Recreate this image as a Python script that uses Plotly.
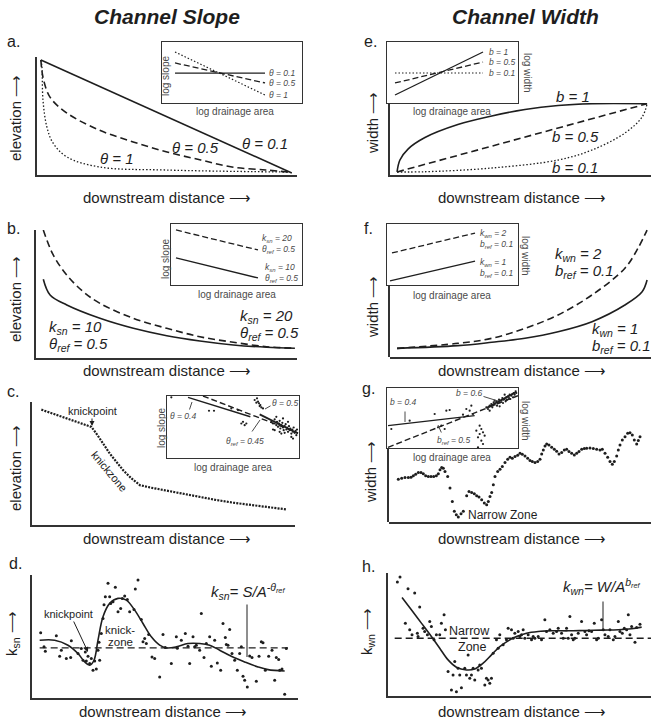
import plotly.graph_objects as go

W, H = 651, 721
FONT = "Liberation Sans, Arial, Helvetica, sans-serif"
INK = "#1e1e1e"
GRAY = "#4a4a4a"
ARROW = "\u27f6"

# ================= DATA (arbitrary units) =================
# --- panel a: elevation profiles, theta = 0.1 / 0.5 / 1
a_x_t01 = [1.5, 98]
a_y_t01 = [97.5, 1.7]
a_x_t05 = [1.5, 2.3, 5, 11.5, 24, 37, 50, 63, 75, 88, 97]
a_y_t05 = [97.5, 83, 66, 52.5, 38, 28, 19.5, 12.7, 6.8, 4.2, 2.5]
a_x_t1 = [1.5, 1.9, 2.3, 3.8, 6.2, 11.5, 24, 50, 97]
a_y_t1 = [97.5, 91.5, 63.5, 40.7, 27, 15.3, 6.8, 4.2, 2.5]
# inset a: log slope vs log area
ai_x = [9.3, 73.6]
ai_t01 = [49, 49]
ai_t05 = [65.6, 32.8]
ai_t1 = [83.6, 13.1]

# --- panel e: width profiles, b = 1 / 0.5 / 0.1
e_x_b1 = [2.7, 3.8, 6.9, 13.4, 26, 39, 51.7, 64.4, 77.4, 98.5]
e_y_b1 = [4.2, 20.8, 36, 52, 70, 82, 91, 96.5, 99, 99]
e_x_b05 = [2.7, 98.5]
e_y_b05 = [4.2, 99]
e_x_b01 = [2.7, 13.4, 39, 64.4, 77.4, 90, 96.6, 98.5]
e_y_b01 = [4.2, 4.5, 9.7, 20.8, 34.7, 58.3, 80.6, 99]
# inset e
ei_x = [6.1, 73.3]
ei_b1 = [13.1, 83.6]
ei_b05 = [32.8, 67.2]
ei_b01 = [49.2, 49.2]

# --- panel b: ksn = 20 (dashed) and ksn = 10 (solid)
b_x_k20 = [2.8, 6.6, 11.8, 18.1, 24.5, 37.3, 50.1, 62.8, 75.6, 88.4, 99.2]
b_y_k20 = [100, 80.5, 64.8, 51.8, 42.7, 31, 23.2, 16.6, 12.3, 8.8, 7.6]
b_x_k10 = [2.8, 5.4, 11.8, 24.5, 37.3, 50.1, 62.8, 75.6, 88.4, 99.2]
b_y_k10 = [61.5, 49.2, 41.4, 31, 23.2, 17.4, 13.3, 10.2, 8.4, 7.6]
# inset b
bi_x = [3.8, 66.4]
bi_k20 = [90.2, 57.4]
bi_k10 = [44.3, 11.5]

# --- panel f: kwn = 2 (dashed) and kwn = 1 (solid)
f_x_k2 = [2.7, 26, 39, 51.7, 64.4, 77.4, 90, 95, 98.5]
f_y_k2 = [6.7, 10.6, 14.5, 22.2, 32.6, 48.1, 68.8, 84.3, 98.4]
f_x_k1 = [2.7, 26, 39, 51.7, 64.4, 77.4, 90, 96.6, 98.5]
f_y_k1 = [6.7, 8.8, 11.4, 14.5, 19.6, 27.4, 40.3, 50.6, 59.7]
# inset f
fi_x2 = [3.8, 67.2]
fi_k2 = [52.5, 85.2]
fi_x1 = [2.3, 67.2]
fi_k1 = [6.6, 39.3]

# --- panel c: long profile with knickzone
c_dist = [125, 160, 200, 240, 275, 290, 310, 330, 350, 370, 395, 420, 450, 500,
          550, 600, 650, 700, 750, 800, 858]
c_elev = [347, 335, 320, 307, 295, 275, 245, 215, 190, 165, 140, 120, 113, 103,
          93, 83, 75, 67, 60, 53, 47]
# inset c: slope-area data and fits
ci_pts = [(35, 181), (148, 141), (163, 141), (215, 148), (235, 143), (245, 103), (250, 108),
          (260, 103), (255, 98), (285, 173), (292, 178), (290, 165), (298, 163), (300, 155),
          (305, 151), (310, 148), (302, 158), (295, 168), (335, 108), (340, 103), (345, 115),
          (350, 98), (352, 108), (355, 93), (358, 103), (360, 111), (362, 88), (365, 98),
          (368, 105), (370, 91), (372, 83), (375, 95), (378, 101), (380, 85), (382, 91),
          (385, 78), (388, 95), (390, 83), (392, 88), (395, 73), (398, 85), (400, 78),
          (402, 91), (405, 75), (408, 81), (345, 83), (360, 78), (370, 118), (385, 108),
          (350, 123), (395, 63), (340, 85), (400, 58), (375, 75), (365, 73), (410, 68),
          (412, 85), (355, 103)]
ci_x04 = [85, 272]
ci_y04 = [181, 123]
ci_xref = [130, 415]
ci_yref = [185, 75]
ci_x05 = [300, 415]
ci_y05 = [130, 73]

# --- panel g: width series with narrow zone
g_pts = [(220, 129), (230, 132), (240, 134), (250, 134), (258, 135), (265, 139), (272, 144),
         (280, 149), (288, 149), (295, 145), (302, 139), (310, 137), (318, 137), (326, 137),
         (334, 139), (340, 145), (345, 157), (350, 164), (355, 162), (360, 152), (368, 137),
         (375, 102), (382, 62), (388, 32), (394, 22), (400, 15), (408, 25), (415, 32),
         (425, 79), (432, 92), (440, 89), (448, 85), (455, 79), (462, 75), (470, 67),
         (478, 57), (485, 52), (490, 62), (495, 77), (500, 89), (505, 112), (510, 137),
         (518, 152), (525, 159), (532, 167), (540, 179), (548, 189), (555, 195), (562, 192),
         (570, 197), (578, 201), (585, 207), (592, 204), (600, 199), (608, 192), (615, 185),
         (622, 182), (630, 179), (638, 182), (645, 189), (650, 205), (655, 217), (660, 229),
         (665, 235), (672, 232), (680, 225), (688, 219), (695, 213), (702, 205), (710, 209),
         (718, 217), (725, 219), (732, 212), (740, 207), (748, 202), (755, 207), (762, 212),
         (770, 219), (778, 221), (785, 222), (795, 223), (805, 221), (815, 219), (825, 217),
         (832, 219), (840, 207), (848, 195), (855, 182), (862, 174), (868, 182), (875, 199),
         (880, 217), (885, 232), (892, 247), (900, 257), (908, 267), (915, 269), (922, 262),
         (928, 247), (935, 235), (940, 245), (945, 257)]
# inset g
gi_pts = [(25, 57), (80, 82), (155, 102), (190, 112), (200, 114), (165, 62), (175, 67),
          (185, 57), (250, 117), (260, 112), (265, 127), (270, 102), (240, 100), (280, 52),
          (285, 32), (290, 42), (295, 22), (300, 12), (295, 57), (290, 67), (285, 2),
          (300, 47), (305, 37), (310, 122), (315, 117), (320, 127), (325, 132), (328, 122),
          (332, 137), (335, 130), (340, 140), (342, 127), (345, 135), (348, 145), (350, 137),
          (355, 142), (358, 150), (360, 135), (362, 145), (365, 147), (368, 140), (370, 152),
          (372, 145), (375, 155), (378, 150), (380, 160), (382, 147), (385, 157), (388, 162),
          (390, 152), (392, 165), (395, 160), (398, 170), (400, 165), (335, 142), (350, 125),
          (365, 160), (320, 112)]
gi_x04 = [15, 275]
gi_y04 = [67, 97]
gi_xref = [15, 405]
gi_yref = [2, 157]
gi_x06 = [310, 400]
gi_y06 = [120, 168]

# --- panel d: ksn along the channel
d_pts = [(38, 195), (48, 153), (52, 140), (85, 186), (95, 125), (100, 143), (115, 118),
         (128, 121), (130, 171), (150, 133), (160, 148), (165, 113), (172, 138), (175, 111),
         (180, 125), (185, 103), (190, 118), (195, 83), (200, 111), (205, 87), (210, 143),
         (213, 167), (215, 113), (220, 193), (225, 238), (228, 279), (232, 303), (240, 343),
         (245, 303), (248, 283), (255, 288), (262, 331), (270, 258), (278, 268), (283, 298),
         (290, 305), (298, 295), (305, 258), (318, 265), (322, 326), (330, 353), (340, 235),
         (345, 168), (350, 178), (355, 163), (362, 190), (372, 123), (380, 118), (395, 63),
         (405, 190), (412, 151), (430, 103), (445, 183), (448, 149), (460, 173), (472, 193),
         (480, 155), (485, 103), (495, 183), (500, 153), (505, 158), (515, 143), (520, 253),
         (528, 121), (535, 163), (545, 183), (550, 95), (560, 173), (568, 105), (578, 83),
         (585, 223), (592, 181), (595, 160), (600, 158), (605, 205), (612, 133), (620, 113),
         (628, 83), (635, 133), (640, 153), (645, 65), (650, 53), (658, 33), (665, 126),
         (672, 121), (685, 50), (693, 125), (700, 168), (705, 165), (712, 83), (722, 125),
         (732, 143), (740, 53), (745, 121), (752, 115), (755, 83), (762, 87), (770, 11),
         (775, 148)]
d_fit_x = [35, 80, 120, 150, 170, 185, 198, 210, 225, 245, 270, 295, 320, 345, 370, 395,
           415, 445, 480, 515, 545, 575, 610, 650, 690, 720, 770]
d_fit_y = [173, 173, 158, 133, 108, 98, 113, 173, 243, 283, 298, 293, 263, 223, 183, 158,
           150, 153, 163, 163, 158, 143, 125, 108, 93, 85, 81]
d_ref_x = [35, 780]
d_ref_y = [150, 150]

# --- panel h: kwn along the channel
h_pts = [(38, 341), (46, 356), (70, 321), (90, 308), (105, 266), (62, 218), (75, 198),
         (82, 183), (98, 188), (100, 178), (115, 203), (120, 193), (128, 183), (135, 223),
         (140, 208), (148, 168), (155, 183), (165, 183), (170, 218), (178, 243), (182, 198),
         (190, 73), (200, 18), (205, 63), (210, 103), (215, 13), (220, 83), (225, 63),
         (230, 25), (240, 83), (245, 63), (250, 123), (255, 53), (260, 63), (265, 83),
         (270, 48), (280, 78), (285, 93), (290, 83), (300, 33), (305, 53), (310, 48),
         (315, 38), (320, 53), (325, 128), (335, 168), (340, 143), (345, 183), (355, 153),
         (365, 168), (370, 203), (380, 198), (385, 173), (390, 188), (400, 193), (405, 178),
         (410, 183), (415, 198), (420, 173), (430, 183), (440, 168), (445, 178), (450, 173),
         (460, 178), (470, 168), (480, 228), (485, 193), (495, 198), (505, 188), (515, 193),
         (520, 203), (530, 188), (535, 173), (545, 203), (550, 173), (555, 238), (560, 183),
         (565, 168), (570, 173), (580, 188), (590, 223), (600, 193), (605, 183), (612, 195),
         (620, 193), (628, 218), (635, 168), (640, 173), (650, 228), (655, 198), (660, 183),
         (670, 178), (675, 198), (685, 168), (690, 178), (700, 223), (705, 193), (712, 188),
         (718, 203), (725, 198), (730, 243), (735, 183), (740, 208), (750, 161), (755, 205),
         (765, 215)]
h_fit_x = [52, 80, 110, 140, 165, 190, 215, 245, 270, 295, 320, 345, 370, 395, 425, 460,
           500, 550, 600, 650, 700, 740, 770]
h_fit_y = [295, 258, 218, 178, 143, 108, 86, 78, 81, 98, 123, 148, 165, 178, 188, 193,
           195, 195, 196, 197, 198, 201, 206]
h_ref_x = [30, 800]
h_ref_y = [173, 173]

# ================= FIGURE =================
fig = go.Figure()


def key(k, L):
    return f"{L}axis" if k == 1 else f"{L}axis{k}"


def ref(k, L):
    return L if k == 1 else f"{L}{k}"


def add_axes(k, xpx, ypx, xr, yr, xline=True, yline=True, mirror=False, lw=1.5):
    base = dict(showgrid=False, zeroline=False, showticklabels=False, ticks="",
                linecolor="#333333", linewidth=lw, mirror=mirror, fixedrange=True)
    fig.layout[key(k, "x")] = dict(base, domain=[xpx[0] / W, xpx[1] / W], range=xr,
                                  anchor=ref(k, "y"), showline=xline)
    fig.layout[key(k, "y")] = dict(base, domain=[1 - ypx[0] / H, 1 - ypx[1] / H], range=yr,
                                  anchor=ref(k, "x"), showline=yline)


def line(k, xs, ys, dash=None, width=1.6, color=INK, spline=True):
    fig.add_trace(go.Scatter(x=xs, y=ys, mode="lines",
                             line=dict(color=color, width=width, dash=dash,
                                       shape="spline" if spline else "linear", smoothing=1.0),
                             xaxis=ref(k, "x"), yaxis=ref(k, "y"),
                             hoverinfo="skip", showlegend=False))


def dots(k, pts, size=3.2, color=INK):
    fig.add_trace(go.Scatter(x=[p[0] for p in pts], y=[p[1] for p in pts], mode="markers",
                             marker=dict(color=color, size=size),
                             xaxis=ref(k, "x"), yaxis=ref(k, "y"),
                             hoverinfo="skip", showlegend=False))


DASH = "7px,4px"
DOT = "1.5px,2px"

# axes (pixel domains)
add_axes(1, [37, 297], [175, 57], [0, 100], [0, 100])                 # a
add_axes(2, [162, 302], [103, 42], [0, 100], [0, 100], mirror=True, lw=1.3)   # a inset
add_axes(3, [390, 651], [175, 103], [0, 100], [0, 100])               # e
add_axes(4, [387, 518], [103, 42], [0, 100], [0, 100], mirror=True, lw=1.3)   # e inset
add_axes(5, [36, 297], [358, 230], [0, 100], [0, 100])                # b
add_axes(6, [171, 302], [285, 224], [0, 100], [0, 100], mirror=True, lw=1.3)  # b inset
add_axes(7, [390, 651], [357, 228], [0, 100], [0, 100], yline=False)  # f
add_axes(8, [387, 518], [285, 224], [0, 100], [0, 100], mirror=True, lw=1.3)  # f inset
add_axes(9, [32, 295], [525, 402], [97, 885], [0, 370])               # c
add_axes(10, [167, 299], [458, 396], [22, 418], [0, 185], mirror=True, lw=1.3)  # c inset
add_axes(11, [389, 651], [522, 428], [192, 978], [0, 283], yline=False)  # g
add_axes(12, [387, 518], [448, 388], [12, 405], [0, 180], mirror=True, lw=1.3)  # g inset
add_axes(13, [32, 298], [698, 575], [12, 810], [0, 368])              # d
add_axes(14, [388, 651], [696, 573], [10, 798], [0, 368])             # h
add_axes(15, [390, 651], [357, 285], [0, 1], [0, 1], xline=False)     # f left axis line
add_axes(16, [389, 651], [522, 448], [0, 1], [0, 1], xline=False)     # g left axis line
for k in (15, 16):
    fig.add_trace(go.Scatter(x=[None], y=[None], mode="lines", xaxis=ref(k, "x"),
                             yaxis=ref(k, "y"), showlegend=False, hoverinfo="skip"))

# panel a
line(1, a_x_t01, a_y_t01, spline=False)
line(1, a_x_t05, a_y_t05, dash=DASH)
line(1, a_x_t1, a_y_t1, dash=DOT, width=1.3)
line(2, ai_x, ai_t01, spline=False, width=1.3)
line(2, ai_x, ai_t05, dash="6px,3px", spline=False, width=1.3)
line(2, ai_x, ai_t1, dash=DOT, spline=False, width=1.2)

# panel e
line(3, e_x_b1, e_y_b1)
line(3, e_x_b05, e_y_b05, dash=DASH, spline=False)
line(3, e_x_b01, e_y_b01, dash=DOT, width=1.3)
line(4, ei_x, ei_b1, spline=False, width=1.3)
line(4, ei_x, ei_b05, dash="6px,3px", spline=False, width=1.3)
line(4, ei_x, ei_b01, dash=DOT, spline=False, width=1.2)

# panel b
line(5, b_x_k20, b_y_k20, dash=DASH)
line(5, b_x_k10, b_y_k10)
line(6, bi_x, bi_k20, dash="6px,3px", spline=False, width=1.3)
line(6, bi_x, bi_k10, spline=False, width=1.3)

# panel f
line(7, f_x_k2, f_y_k2, dash=DASH)
line(7, f_x_k1, f_y_k1)
line(8, fi_x2, fi_k2, dash="6px,3px", spline=False, width=1.3)
line(8, fi_x1, fi_k1, spline=False, width=1.3)

# panel c
line(9, c_dist, c_elev, dash="2px,1.2px", width=2.2, spline=False)
dots(10, ci_pts, size=2.2)
line(10, ci_x04, ci_y04, spline=False, width=1.4)
line(10, ci_xref, ci_yref, dash="6px,3px", spline=False, width=1.4)
line(10, ci_x05, ci_y05, spline=False, width=1.8)

# panel g
dots(11, g_pts, size=3)
dots(12, gi_pts, size=2.2)
line(12, gi_x04, gi_y04, spline=False, width=1.4)
line(12, gi_xref, gi_yref, dash="6px,3px", spline=False, width=1.4)
line(12, gi_x06, gi_y06, spline=False, width=1.8)

# panel d
line(13, d_ref_x, d_ref_y, dash=DASH, spline=False, width=1.4)
dots(13, d_pts, size=3)
line(13, d_fit_x, d_fit_y, width=1.6)

# panel h
line(14, h_ref_x, h_ref_y, dash=DASH, spline=False, width=1.4)
dots(14, h_pts, size=3)
line(14, h_fit_x, h_fit_y, width=1.6)


# ================= TEXT =================
def txt(x, y, s, size=15, color=INK, angle=0, xanchor="center", italic=False, bold=False):
    if italic:
        s = f"<i>{s}</i>"
    if bold:
        s = f"<b>{s}</b>"
    fig.add_annotation(x=x / W, y=1 - y / H, xref="paper", yref="paper", text=s,
                       showarrow=False, textangle=angle, xanchor=xanchor, yanchor="middle",
                       font=dict(family=FONT, size=size, color=color))


def ptr(x0, y0, x1, y1, head=0, color=INK, width=1):
    fig.add_annotation(x=x1 / W, y=1 - y1 / H, xref="paper", yref="paper", text="",
                       showarrow=True, ax=x0 - x1, ay=y0 - y1, axref="pixel", ayref="pixel",
                       arrowhead=head, arrowsize=1, arrowwidth=width, arrowcolor=color,
                       standoff=0, startstandoff=0)


txt(167, 17, "Channel Slope", size=21, bold=True, italic=True)
txt(525, 17, "Channel Width", size=21, bold=True, italic=True)

for lbl, x, y in [("a.", 13, 42), ("b.", 13, 228), ("c.", 13, 391), ("d.", 15, 563),
                  ("e.", 370, 42), ("f.", 368, 228), ("g.", 368, 388), ("h.", 368, 566)]:
    txt(x, y, lbl, size=16)

for x, y in [(167, 197), (167, 370), (167, 538), (163, 711),
             (522, 197), (522, 370), (522, 538), (522, 711)]:
    txt(x, y, "downstream distance " + ARROW, size=15)

for y in (118, 299, 468):
    txt(15, y, "elevation " + ARROW, size=15, angle=-90)
for x, y in [(372, 123), (372, 307), (370, 472)]:
    txt(x, y, "width " + ARROW, size=15, angle=-90)
txt(12, 634, "k<sub>sn</sub> " + ARROW, size=15, angle=-90)
txt(367, 632, "k<sub>wn</sub> " + ARROW, size=15, angle=-90)

# inset axis labels
for x, y in [(166, 76), (165, 259), (162, 428)]:
    txt(x, y, "log slope", size=10, color=GRAY, angle=-90)
for x, y in [(527, 72), (526, 255), (526, 420)]:
    txt(x, y, "log width", size=10, color=GRAY, angle=90)
for x, y in [(235, 112), (237, 294), (233, 467), (452, 112), (452, 295), (452, 457)]:
    txt(x, y, "log drainage area", size=10, color=GRAY)

# inset a / e legends
txt(267, 73, "θ = 0.1", size=8.5, color=GRAY, italic=True, xanchor="left")
txt(267, 83, "θ = 0.5", size=8.5, color=GRAY, italic=True, xanchor="left")
txt(267, 95, "θ = 1", size=8.5, color=GRAY, italic=True, xanchor="left")
txt(487, 52, "b = 1", size=8.5, color=GRAY, italic=True, xanchor="left")
txt(487, 62, "b = 0.5", size=8.5, color=GRAY, italic=True, xanchor="left")
txt(487, 73, "b = 0.1", size=8.5, color=GRAY, italic=True, xanchor="left")

# inset b / f legends
txt(260, 238, "k<sub>sn</sub> = 20", size=8.5, color=GRAY, italic=True, xanchor="left")
txt(260, 249, "θ<sub>ref</sub> = 0.5", size=8.5, color=GRAY, italic=True, xanchor="left")
txt(263, 267, "k<sub>sn</sub> = 10", size=8.5, color=GRAY, italic=True, xanchor="left")
txt(263, 278, "θ<sub>ref</sub> = 0.5", size=8.5, color=GRAY, italic=True, xanchor="left")
txt(478, 233, "k<sub>wn</sub> = 2", size=8.5, color=GRAY, italic=True, xanchor="left")
txt(478, 244, "b<sub>ref</sub> = 0.1", size=8.5, color=GRAY, italic=True, xanchor="left")
txt(478, 262, "k<sub>wn</sub> = 1", size=8.5, color=GRAY, italic=True, xanchor="left")
txt(478, 273, "b<sub>ref</sub> = 0.1", size=8.5, color=GRAY, italic=True, xanchor="left")

# inset c / g labels + pointers
txt(183, 416, "θ = 0.4", size=8.5, color=GRAY, italic=True)
txt(245, 442, "θ<sub>ref</sub> = 0.45", size=8.5, color=GRAY, italic=True)
txt(285, 403, "θ = 0.5", size=8.5, color=GRAY, italic=True)
ptr(189, 411, 192, 402, color=GRAY)
ptr(251, 433, 260, 420, color=GRAY)
ptr(272, 405, 265, 409, color=GRAY)
txt(403, 402, "b = 0.4", size=8.5, color=GRAY, italic=True)
txt(453, 441, "b<sub>ref</sub> = 0.5", size=8.5, color=GRAY, italic=True)
txt(469, 393, "b = 0.6", size=8.5, color=GRAY, italic=True)
ptr(405, 410, 405, 422, color=GRAY)
ptr(442, 434, 438, 425, color=GRAY)
ptr(482, 396, 498, 401, color=GRAY)

# main panel labels
txt(265, 143, "θ = 0.1", size=15, italic=True)
txt(195, 147, "θ = 0.5", size=15, italic=True)
txt(117, 158, "θ = 1", size=15, italic=True)
txt(573, 97, "b = 1", size=15, italic=True)
txt(575, 136, "b = 0.5", size=15, italic=True)
txt(575, 167, "b = 0.1", size=15, italic=True)

txt(47, 327, "k<sub>sn</sub> = 10", size=15, italic=True, xanchor="left")
txt(47, 344, "θ<sub>ref</sub> = 0.5", size=15, italic=True, xanchor="left")
txt(238, 316, "k<sub>sn</sub> = 20", size=15, italic=True, xanchor="left")
txt(238, 333, "θ<sub>ref</sub> = 0.5", size=15, italic=True, xanchor="left")
txt(553, 254, "k<sub>wn</sub> = 2", size=15, italic=True, xanchor="left")
txt(553, 271, "b<sub>ref</sub> = 0.1", size=15, italic=True, xanchor="left")
txt(590, 329, "k<sub>wn</sub> = 1", size=15, italic=True, xanchor="left")
txt(590, 346, "b<sub>ref</sub> = 0.1", size=15, italic=True, xanchor="left")

txt(92, 411, "knickpoint", size=11)
ptr(92, 417, 92, 426, head=2)
txt(109, 471, "knickzone", size=11, angle=50)

txt(503, 515, "Narrow Zone", size=12)

txt(68, 614, "knickpoint", size=11)
ptr(73, 620, 88, 652, head=2)
txt(120, 630, "knick-", size=11.5)
txt(120, 642, "zone", size=11.5)
txt(248, 591, "k<sub>sn</sub>= S/A<sup>-θ<sub>ref</sub></sup>", size=15, italic=True)
ptr(247, 603, 247, 657)

txt(470, 631, "Narrow", size=12.5)
txt(472, 647, "Zone", size=12.5)
txt(602, 586, "k<sub>wn</sub>= W/A<sup>b<sub>ref</sub></sup>", size=15, italic=True)
ptr(603, 600, 603, 630)

fig.update_layout(width=W, height=H, autosize=False,
                  margin=dict(l=0, r=0, t=0, b=0, pad=0),
                  paper_bgcolor="white", plot_bgcolor="rgba(0,0,0,0)",
                  showlegend=False, font=dict(family=FONT, color=INK))

fig.write_html("out.html", config={"displayModeBar": False})
